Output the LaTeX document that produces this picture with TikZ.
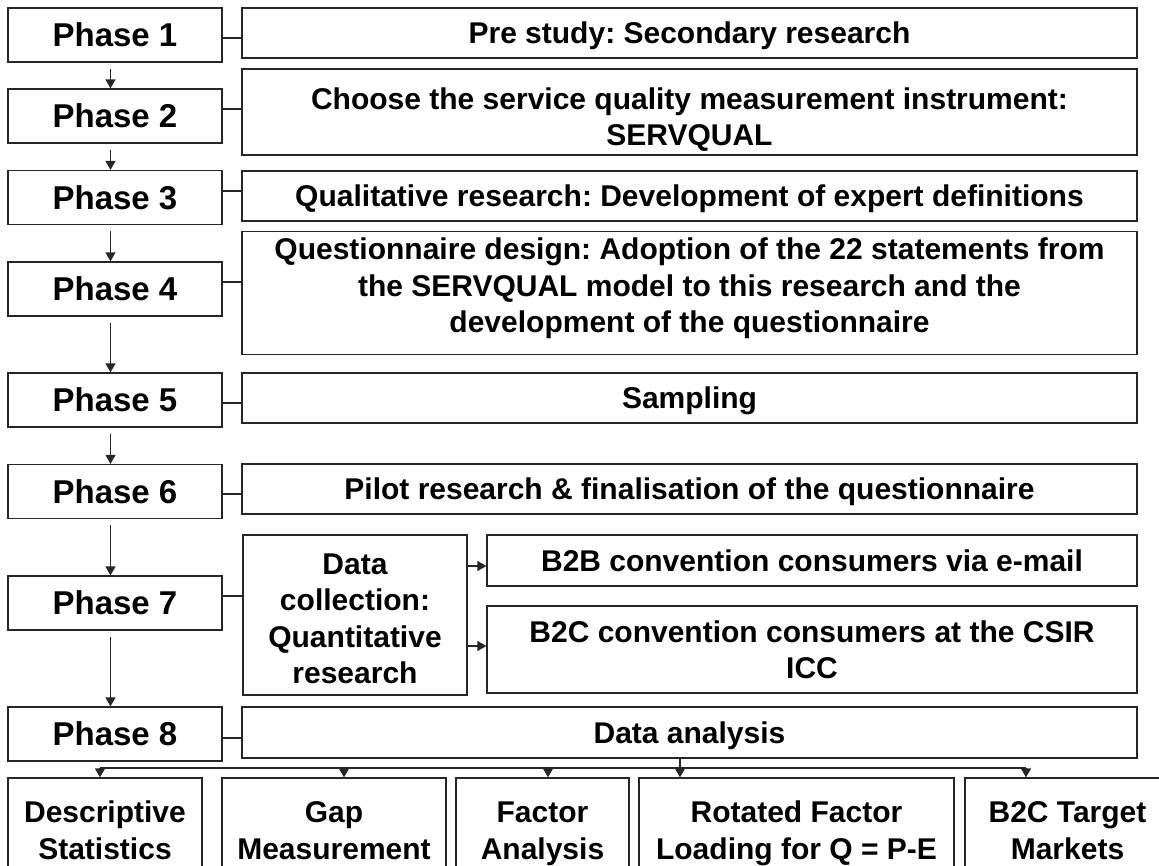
\documentclass[tikz,border=0pt]{standalone}
\usepackage{fontspec}
\setmainfont{Liberation Sans}
\usetikzlibrary{arrows.meta}

% line strut: keeps every text line the same height and depth,
% so the caps sit in the middle of the box
\newcommand\bx{\rule[-7pt]{0pt}{35.5pt}}

\tikzset{
  box/.style={draw=black!85, line width=1.3pt, inner sep=0pt, align=center,
    font=\bfseries\fontsize{30}{36.5}\selectfont},
  phasebox/.style={box, minimum width=214pt, minimum height=54pt,
    font=\bfseries\fontsize{33}{38}\selectfont},
  wide/.style={box, minimum width=895pt},
  link/.style={draw=black!85, line width=1.3pt},
  flow/.style={link, -{Triangle[length=9pt,width=10pt]}},
}

\begin{document}
\frenchspacing
\begin{tikzpicture}[x=1pt, y=-1pt]
\useasboundingbox (0,0) rectangle (1159,865);
\clip (0,0) rectangle (1159,865);
\fill[white] (0,0) rectangle (1159,865);

% phase column
\node[phasebox] (p1) at (115,35)    {Phase 1};
\node[phasebox] (p2) at (115,116)   {Phase 2};
\node[phasebox] (p3) at (115,197.5) {Phase 3};
\node[phasebox] (p4) at (115,289)   {Phase 4};
\node[phasebox] (p5) at (115,400)   {Phase 5};
\node[phasebox] (p6) at (115,491.5) {Phase 6};
\node[phasebox] (p7) at (115,603)   {Phase 7};
\node[phasebox] (p8) at (115,734)   {Phase 8};

% descriptions of the phases
\node[wide, minimum height=50pt]  (r1) at (689.5,33)  {\bx Pre study: Secondary research};
\node[wide, minimum height=86pt]  (r2) at (689.5,112) {\rule[-7pt]{0pt}{44.5pt}Choose the service quality measurement instrument:\\\bx SERVQUAL};
\node[wide, minimum height=50pt]  (r3) at (689.5,196) {\bx Qualitative research: Development of expert definitions};
\node[wide, minimum height=122pt] (r4) at (689.5,293) {\bx Questionnaire design: Adoption of the 22 statements from\\\bx the SERVQUAL model to this research and the\\\rule[-22pt]{0pt}{50.5pt}development of the questionnaire};
\node[wide, minimum height=50pt]  (r5) at (689.5,398) {\bx Sampling};
\node[wide, minimum height=50pt]  (r6) at (689.5,489) {\bx Pilot research \& finalisation of the questionnaire};
\node[wide, minimum height=51pt]  (r8) at (689.5,732.5) {\bx Data analysis};

% phase 7 detail
\node[box, minimum width=224pt, minimum height=160pt] (dc) at (355,615) {\rule[-7pt]{0pt}{41.5pt}Data\\\bx collection:\\\bx Quantitative\\\bx research};
\node[box, minimum width=650pt, minimum height=51pt] (b2b) at (812,560.5) {\bx B2B convention consumers via e-mail};
\node[box, minimum width=650pt, minimum height=87pt] (b2c) at (812,649.5) {\bx B2C convention consumers at the CSIR\\\bx ICC};

% analysis outputs
\node[box, minimum width=194pt, minimum height=104pt] (desc) at (105,830)   {\bx Descriptive\\\bx Statistics};
\node[box, minimum width=224pt, minimum height=104pt] (gap)  at (334,830)   {\bx Gap\\\bx Measurement};
\node[box, minimum width=173pt, minimum height=104pt] (fac)  at (542.5,830) {\bx Factor\\\bx Analysis};
\node[box, minimum width=315pt, minimum height=104pt] (rot)  at (796.5,830) {\bx Rotated Factor\\\bx Loading for Q = P-E};
\node[box, minimum width=205pt, minimum height=104pt] (tgt)  at (1067.5,830) {\bx B2C Target\\\bx Markets};

% arrows down the phase column
\foreach \a/\b in {p1/p2,p2/p3,p3/p4,p4/p5,p5/p6,p6/p7,p7/p8}
  \draw[flow, shorten <=6pt] ([xshift=-4.5pt]\a.south) -- ([xshift=-4.5pt]\b.north);

% links from each phase to its description
\foreach \a/\b/\s in {p1/r1/-3,p2/r2/7,p3/r3/6.5,p4/r4/7,p5/r5/-3,p6/r6/-2.5,p7/dc/7,p8/r8/-4}
  \draw[link] ([yshift=\s pt]\a.east) -- ([yshift=\s pt]\a.east -| \b.west);

% data collection branches
\draw[flow] ([yshift=-5.5pt]b2b.west -| dc.east) -- ([yshift=-5.5pt]b2b.west);
\draw[flow] ([yshift=3.5pt]b2c.west -| dc.east) -- ([yshift=3.5pt]b2c.west);

% distribution bus under the data analysis box
\coordinate (j1) at (100,768);
\coordinate (j2) at (344,768);
\coordinate (j3) at (548,768);
\coordinate (j4) at (680,768);
\coordinate (j5) at (1026,768);
\draw[link] (j1) -- (j5);
\draw[flow] (r8.south -| j4) -- (j4 |- rot.north);
\draw[flow] (j1) -- (j1 |- desc.north);
\draw[flow] (j2) -- (j2 |- gap.north);
\draw[flow] (j3) -- (j3 |- fac.north);
\draw[flow] (j5) -- (j5 |- tgt.north);
\end{tikzpicture}
\end{document}
